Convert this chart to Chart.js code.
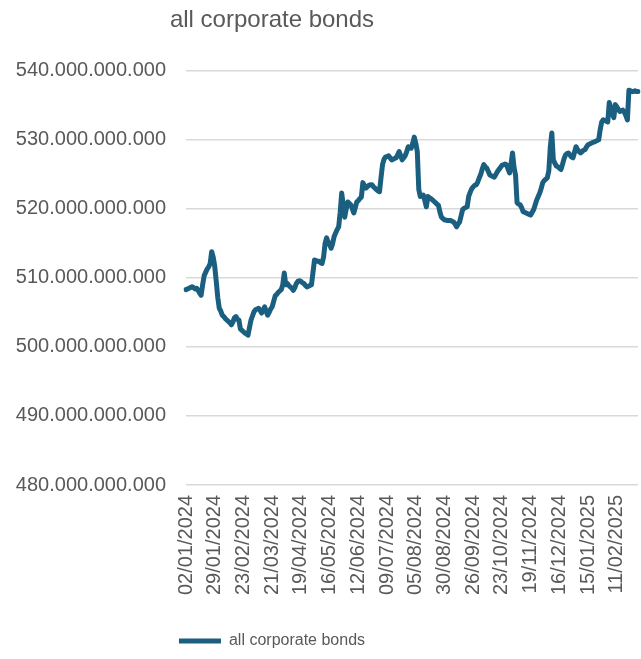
<!DOCTYPE html>
<html>
<head>
<meta charset="utf-8">
<script src="https://cdn.jsdelivr.net/npm/chart.js@4.4.1/dist/chart.umd.min.js"></script>
<style>
  html, body { margin: 0; padding: 0; background: #fff; }
  #wrap { width: 641px; height: 659px; position: relative; }
</style>
</head>
<body>
<div id="wrap"><canvas id="bonds"></canvas></div>
<script>
"use strict"
// series, billions (daily, business days from 02/01/2024)
var seriesName = 'all corporate bonds';
var bondValues = [
  508.3, 508.4, 508.5, 508.6, 508.7, 508.6, 508.4, 508.5, 508.2, 507.8,
  507.5, 509.0, 510.3, 510.8, 511.3, 511.6, 512.1, 513.8, 513.0, 511.7,
  509.5, 507.2, 505.6, 505.2, 504.6, 504.4, 504.1, 503.9, 503.7, 503.5,
  503.2, 503.6, 504.2, 504.4, 504.0, 503.9, 502.6, 502.4, 502.2, 502.0,
  501.9, 501.7, 502.8, 503.9, 504.5, 505.1, 505.4, 505.5, 505.6, 505.3,
  504.9, 505.3, 505.8, 505.2, 504.6, 505.0, 505.5, 505.8, 506.6, 507.4,
  507.6, 507.9, 508.1, 508.3, 509.0, 510.7, 509.0, 509.2, 508.9, 508.7,
  508.5, 508.2, 508.6, 509.2, 509.5, 509.6, 509.5, 509.3, 509.2, 508.9,
  508.7, 508.8, 508.9, 509.0, 510.8, 512.6, 512.5, 512.4, 512.4, 512.2,
  512.1, 513.0, 515.0, 515.8, 515.2, 514.8, 514.3, 515.0, 516.0, 516.5,
  517.0, 517.4, 519.5, 522.3, 520.5, 518.8, 520.0, 521.0, 520.8, 520.6,
  520.0, 519.4, 520.2, 521.0, 521.2, 521.5, 521.7, 523.8, 523.4, 523.0,
  523.2, 523.4, 523.5, 523.5, 523.2, 523.0, 522.8, 522.6, 522.5, 524.5,
  526.4, 527.2, 527.5, 527.6, 527.7, 527.4, 527.1, 527.2, 527.3, 527.4,
  527.8, 528.3, 527.7, 527.1, 527.4, 527.7, 528.3, 529.0, 528.9, 528.8,
  529.5, 530.4, 529.5, 528.3, 522.8, 521.8, 521.9, 522.0, 521.2, 520.3,
  521.8, 521.6, 521.5, 521.3, 521.1, 520.9, 520.7, 520.5, 519.5, 518.8,
  518.6, 518.4, 518.4, 518.3, 518.3, 518.3, 518.2, 518.1, 517.8, 517.4,
  517.8, 518.1, 519.0, 519.9, 520.1, 520.2, 520.3, 521.8, 522.4, 522.9,
  523.2, 523.4, 523.5, 523.9, 524.5, 525.0, 525.8, 526.4, 526.1, 525.9,
  525.4, 524.9, 524.8, 524.7, 524.6, 525.0, 525.4, 525.7, 526.0, 526.3,
  526.4, 526.5, 526.4, 525.8, 525.2, 526.5, 528.1, 526.0, 524.9, 520.9,
  520.7, 520.6, 520.2, 519.6, 519.5, 519.4, 519.3, 519.2, 519.1, 519.5,
  519.9, 520.6, 521.3, 521.8, 522.3, 523.0, 523.8, 524.1, 524.3, 524.5,
  525.5, 529.0, 531.0, 527.1, 526.6, 526.2, 526.1, 525.9, 525.7, 526.4,
  527.2, 527.8, 528.0, 528.1, 527.8, 527.5, 527.4, 528.2, 529.0, 528.6,
  528.3, 528.1, 528.3, 528.5, 528.6, 529.0, 529.3, 529.4, 529.5, 529.6,
  529.7, 529.8, 529.9, 530.0, 531.5, 532.6, 532.9, 532.8, 532.7, 532.6,
  535.4, 534.6, 533.8, 533.2, 535.1, 534.8, 534.4, 534.1, 534.2, 534.3,
  534.0, 533.5, 532.9, 537.2, 537.1, 537.0, 537.0, 537.1, 537.0, 537.0
];
var tickLabels = ['02/01/2024', '29/01/2024', '23/02/2024', '21/03/2024', '19/04/2024', '16/05/2024',
  '12/06/2024', '09/07/2024', '05/08/2024', '30/08/2024', '26/09/2024', '23/10/2024',
  '19/11/2024', '16/12/2024', '15/01/2025', '11/02/2025'];
var holidays = ['2024-03-29', '2024-04-01', '2024-12-25', '2024-12-26', '2025-01-01'];
var yTicks = [480, 490, 500, 510, 520, 530, 540];

// business-day categories
function pad(n) { return (n < 10 ? '0' : '') + n; }
var categories = [];
var d = new Date(Date.UTC(2024, 0, 2));
while (categories.length < bondValues.length) {
    var iso = d.getUTCFullYear() + '-' + pad(d.getUTCMonth() + 1) + '-' + pad(d.getUTCDate());
    var wd = d.getUTCDay();
    if (wd !== 0 && wd !== 6 && holidays.indexOf(iso) < 0) {
        categories.push(pad(d.getUTCDate()) + '/' + pad(d.getUTCMonth() + 1) + '/' + d.getUTCFullYear());
    }
    d.setUTCDate(d.getUTCDate() + 1);
}

var textGrey = '#595959';
var lineBlue = '#1b5f80';

// title and legend sit centred over the left part, as in the original
var shiftBoxes = {
    id: 'shiftBoxes',
    afterLayout: function(chart) {
        chart.titleBlock.left = 0;
        chart.titleBlock.right = 544;
        chart.legend.left = 0;
        chart.legend.right = 544;
    }
};

var ctx = document.getElementById('bonds');
var bondChart = new Chart(ctx, {
    type: 'line',
    data: {
        labels: categories,
        datasets: [{
            label: seriesName,
            data: bondValues,
            borderColor: lineBlue,
            backgroundColor: lineBlue,
            borderWidth: 5,
            borderCapStyle: 'round',
            borderJoinStyle: 'round',
            pointRadius: 0,
            tension: 0,
            fill: false
        }]
    },
    options: {
        responsive: true,
        maintainAspectRatio: false,
        animation: false,
        layout: { padding: { left: 0, right: 3, top: 0, bottom: 0 } },
        plugins: {
            title: {
                display: true,
                text: seriesName,
                color: textGrey,
                font: { family: 'Liberation Sans', size: 24, weight: 'normal' },
                padding: { top: 6, bottom: 36 }
            },
            legend: {
                position: 'bottom',
                labels: {
                    color: textGrey,
                    font: { family: 'Liberation Sans', size: 16 },
                    usePointStyle: true,
                    pointStyle: 'line',
                    pointStyleWidth: 42,
                    padding: 10
                }
            },
            tooltip: { enabled: false }
        },
        scales: {
            x: {
                grid: { display: false },
                border: { display: false },
                ticks: {
                    autoSkip: false,
                    maxRotation: 90,
                    minRotation: 90,
                    padding: 2,
                    color: textGrey,
                    font: { family: 'Liberation Sans', size: 20 },
                    callback: function(value, index) {
                        var lab = categories[index];
                        return tickLabels.indexOf(lab) >= 0 ? lab : '';
                    }
                },
                afterFit: function(scale) {
                    scale.height = 138;
                    scale.paddingLeft = 0;
                    scale.paddingRight = 0;
                }
            },
            y: {
                min: yTicks[0],
                max: yTicks[yTicks.length - 1],
                grid: { color: '#d9d9d9', lineWidth: 1.5, drawTicks: false },
                border: { display: false },
                afterBuildTicks: function(scale) {
                    scale.ticks = yTicks.map(function(v) { return { value: v }; });
                },
                ticks: {
                    padding: 20,
                    color: textGrey,
                    font: { family: 'Liberation Sans', size: 20 },
                    callback: function(value) { return value + '.000.000.000'; }
                },
                afterFit: function(scale) { scale.width = 186; }
            }
        }
    },
    plugins: [shiftBoxes]
});
</script>
</body>
</html>
